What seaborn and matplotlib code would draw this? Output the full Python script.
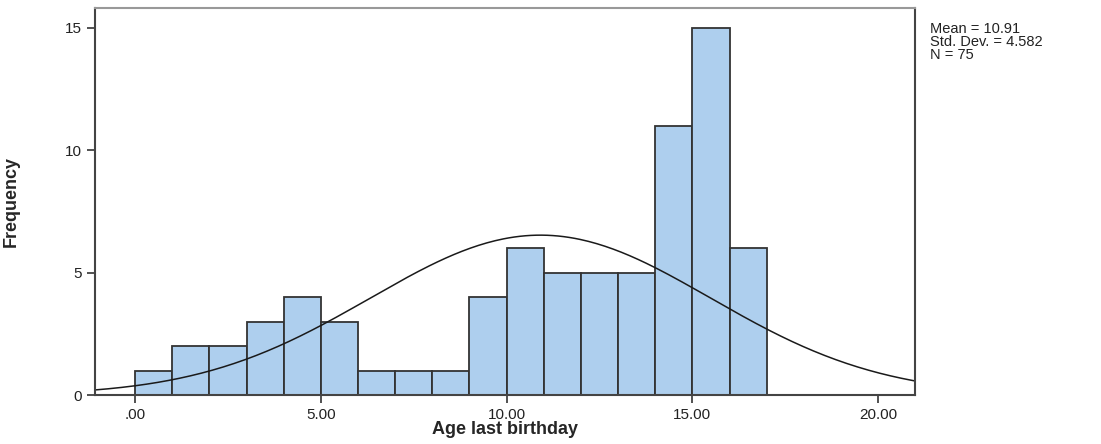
import numpy as np
import pandas as pd
import matplotlib
matplotlib.use("Agg")
import matplotlib.pyplot as plt
import seaborn as sns

# histogram values (bin width 1, starting at 0)
bin_left = [0, 1, 2, 3, 4, 5, 6, 7, 8, 9, 10, 11, 12, 13, 14, 15, 16]
counts = [1, 2, 2, 3, 4, 3, 1, 1, 1, 4, 6, 5, 5, 5, 11, 15, 6]
mean_age = 10.91
sd_age = 4.582
n_total = 75
x_ticks = [0, 5, 10, 15, 20]
x_ticklabels = [".00", "5.00", "10.00", "15.00", "20.00"]
y_ticks = [0, 5, 10, 15]

sns.set_style("white")
plt.rcParams["font.family"] = ["Liberation Sans", "DejaVu Sans"]

df = pd.DataFrame({"age": np.array(bin_left) + 0.5, "n": counts})
edges = bin_left + [bin_left[-1] + 1]

fig = plt.figure(figsize=(11.01, 4.44), dpi=100)
ax = fig.add_axes([0.0863, 0.110, 0.745, 0.872])

sns.histplot(data=df, x="age", weights="n", bins=edges, ax=ax,
             color="#aecfee", edgecolor="#333333", linewidth=1.3, alpha=1)

# fitted normal curve (scaled by N * bin width)
xs = np.linspace(-1.1, 21.0, 300)
ys = n_total * 1.0 / (sd_age * np.sqrt(2 * np.pi)) * np.exp(-0.5 * ((xs - mean_age) / sd_age) ** 2)
sns.lineplot(x=xs, y=ys, ax=ax, color="#1a1a1a", linewidth=1.1)

ax.set_xlim(-1.08, 21.0)
ax.set_ylim(0, 15.8)
ax.set_xticks(x_ticks)
ax.set_xticklabels(x_ticklabels)
ax.set_yticks(y_ticks)
ax.tick_params(axis="both", direction="out", length=6, width=1.2, color="#333333",
               labelsize=11, labelcolor="#222222", bottom=True, left=True)
for side in ["left", "bottom", "right"]:
    ax.spines[side].set_color("#444444")
    ax.spines[side].set_linewidth(1.5)
ax.spines["top"].set_color("#999999")
ax.spines["top"].set_linewidth(1.5)

ax.set_xlabel("Age last birthday", fontsize=13, fontweight="bold")
ax.xaxis.set_label_coords(0.5, -0.068)
ax.set_ylabel("Frequency", fontsize=13, fontweight="bold",
              family=["Liberation Sans Narrow", "Liberation Sans"])
ax.yaxis.set_label_coords(-0.092, 0.5)

fig.text(0.845, 0.905, f"Mean = {mean_age:.2f}\nStd. Dev. = {sd_age:.3f}\nN = {n_total}",
         fontsize=10.5, va="center", ha="left", linespacing=0.9, color="#222222")

plt.savefig("out.png", dpi=100)
